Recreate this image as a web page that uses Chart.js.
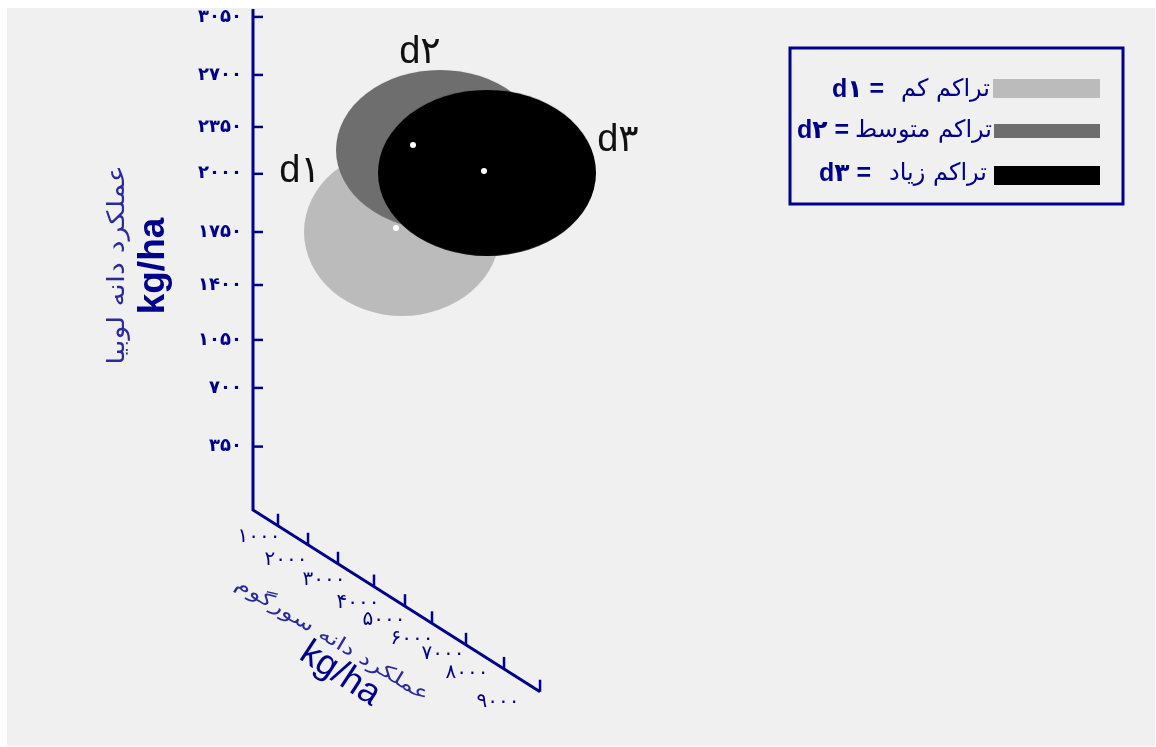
<!DOCTYPE html>
<html lang="fa"><head><meta charset="utf-8">
<style>html,body{margin:0;padding:0;background:#fff}canvas{display:block}</style>
<script src="https://cdn.jsdelivr.net/npm/chart.js@4"></script>
</head><body>
<div style="width:1156px;height:747px"><canvas id="c" width="1156" height="747"></canvas></div>
<script>
// ---- data ----
const seriesNames = ['d۱', 'd۲', 'd۳'];
const seriesText = ['تراکم کم', 'تراکم متوسط', 'تراکم زیاد'];
const seriesColors = ['#bbbbbb', '#6e6e6e', '#000000'];
const sorghumYield = [4484, 5017, 7243];   // depth axis, white centre dots
const cowpeaYield = [1745, 2259, 2098];    // vertical axis, white centre dots
const blobDepth = [4672, 5863, 7337];
const blobYield = [1720, 2228, 2086];
const yTickLabels = ['۳۰۵۰', '۲۷۰۰', '۲۳۵۰', '۲۰۰۰', '۱۷۵۰', '۱۴۰۰', '۱۰۵۰', '۷۰۰', '۳۵۰'];
const yTickPlaces = [3051, 2692, 2370, 2080, 1720, 1392, 1052, 755, 392];
const depthTickLabels = ['۱۰۰۰', '۲۰۰۰', '۳۰۰۰', '۴۰۰۰', '۵۰۰۰', '۶۰۰۰', '۷۰۰۰', '۸۰۰۰', '۹۰۰۰'];
const depthTickPlaces = [784, 1725, 2665, 3794, 4766, 5613, 6679, 7871, 9000];
const yTitle = 'عملکرد دانه لوبیا';
const depthTitle = 'عملکرد دانه سورگوم';
const unitText = 'kg/ha';

// ---- styling ----
const NAVY = '#00008b';
const DEPTH_SLOPE = 0.125;               // oblique projection of the depth axis
const depthY = d => -d * DEPTH_SLOPE;
const blobSizes = [[98, 84], [104, 80], [109, 83]];
const depthLabelOffsets = [[-19, 11], [-22, 15], [-14, 16], [-16, 16], [-21, 14], [-20, 15], [-23, 9], [-37, 4], [-42, 10]];
const labelSpots = [[300, 172], [420, 53], [618, 141]];
const legendRows = [
  {cy: 90, sw: [993, 79, 107, 19], textRight: 990, sym: 884},
  {cy: 131, sw: [994, 124, 106, 14], textRight: 992, sym: 849},
  {cy: 174, sw: [994, 166, 106, 19], textRight: 987, sym: 871}
];

function ellipseStyle(rx, ry, color) {
  const cv = document.createElement('canvas');
  cv.width = rx * 2; cv.height = ry * 2;
  const g = cv.getContext('2d');
  g.fillStyle = color;
  g.beginPath(); g.ellipse(rx, ry, rx, ry, 0, 0, Math.PI * 2); g.fill();
  return cv;
}

const blobs = seriesNames.map((n, i) => ({
  type: 'bubble', label: n, order: 10 - i,
  data: [{x: blobDepth[i], y: blobYield[i], r: blobSizes[i][1]}],
  pointStyle: ellipseStyle(blobSizes[i][0], blobSizes[i][1], seriesColors[i]),
  backgroundColor: seriesColors[i], borderWidth: 0, clip: false
}));

const frame = {
  id: 'frame',
  beforeDraw(chart) {
    const c = chart.ctx;
    c.save();
    c.fillStyle = '#ffffff'; c.fillRect(0, 0, 1156, 747);
    c.fillStyle = '#f0f0f0'; c.fillRect(7, 8, 1148, 738);
    c.restore();
  },
  afterDraw(chart) {
    const c = chart.ctx, X = chart.scales.x, Y = chart.scales.y;
    c.save();
    c.strokeStyle = NAVY; c.lineWidth = 2.5;
    // vertical axis ticks (pointing right)
    yTickPlaces.forEach(v => {
      const py = Y.getPixelForValue(v);
      c.beginPath(); c.moveTo(X.getPixelForValue(0), py); c.lineTo(X.getPixelForValue(0) + 10, py); c.stroke();
    });
    // depth axis ticks and labels
    depthTickPlaces.forEach((d, i) => {
      const px = X.getPixelForValue(d), py = Y.getPixelForValue(depthY(d));
      c.beginPath(); c.moveTo(px, py); c.lineTo(px, py - 12); c.stroke();
      c.save();
      c.fillStyle = NAVY; c.font = '20px "DejaVu Sans"';
      c.textAlign = 'center'; c.textBaseline = 'middle';
      c.fillText(depthTickLabels[i], px + depthLabelOffsets[i][0], py + depthLabelOffsets[i][1]);
      c.restore();
    });
    // titles
    const rotText = (txt, x, y, a, font, color, sx = 1) => {
      c.save(); c.translate(x, y); c.rotate(a); c.scale(sx, 1);
      c.font = font; c.fillStyle = color; c.textAlign = 'center'; c.textBaseline = 'middle';
      c.fillText(txt, 0, 0); c.restore();
    };
    rotText(yTitle, 118, 265, -Math.PI / 2, '24px "DejaVu Sans"', '#2a2a9e', 1.2);
    rotText(unitText, 154, 266, -Math.PI / 2, 'bold 37px "Liberation Sans"', NAVY);
    rotText(depthTitle, 332, 640, 0.54, '19px "DejaVu Sans"', '#2a2a9e', 1.35);
    rotText(unitText, 340, 674, 0.58, '36px "Liberation Sans"', NAVY);
    // series labels next to the blobs
    seriesNames.forEach((n, i) => {
      rotText(n, labelSpots[i][0], labelSpots[i][1], 0, '38px "Liberation Sans","DejaVu Sans"', '#111');
    });
    // legend
    c.strokeStyle = NAVY; c.lineWidth = 3;
    c.strokeRect(790, 48, 333, 156);
    legendRows.forEach((r, i) => {
      c.fillStyle = seriesColors[i];
      c.fillRect(r.sw[0], r.sw[1], r.sw[2], r.sw[3]);
      c.fillStyle = NAVY; c.textBaseline = 'middle'; c.textAlign = 'right';
      c.font = '24px "DejaVu Sans"';
      c.fillText(seriesText[i], r.textRight, r.cy);
      c.font = 'bold 25px "Liberation Sans","DejaVu Sans"';
      c.fillText(seriesNames[i] + ' =', r.sym, r.cy);
    });
    c.restore();
  }
};

new Chart(document.getElementById('c'), {
  data: {
    datasets: [
      {type: 'scatter', label: 'axes', order: 0, showLine: true, clip: false,
       data: [{x: 0, y: 3100}, {x: 0, y: 0}, {x: depthTickPlaces[8], y: depthY(depthTickPlaces[8])}],
       borderColor: NAVY, borderWidth: 3, pointRadius: 0, tension: 0},
      {type: 'scatter', label: 'centres', order: 1, clip: false,
       data: sorghumYield.map((x, i) => ({x, y: cowpeaYield[i]})),
       backgroundColor: '#ffffff', borderWidth: 0, pointRadius: 3},
      ...blobs
    ]
  },
  options: {
    responsive: false, animation: false, events: [],
    layout: {autoPadding: false, padding: {left: 0, right: 10, top: 9, bottom: 27}},
    plugins: {legend: {display: false}, tooltip: {enabled: false}},
    scales: {
      x: {type: 'linear', min: 0, max: 28000, display: false},
      y: {
        type: 'linear', min: -1300, max: 3100, position: 'left',
        border: {display: false},
        grid: {display: false, drawTicks: false},
        afterBuildTicks(s) { s.ticks = yTickPlaces.map(value => ({value})); },
        afterFit(s) { s.width = 253; s.paddingTop = 0; s.paddingBottom = 0; },
        afterDataLimits(s) { s.options.grace = 0; },
        ticks: {
          autoSkip: false, padding: 11, maxRotation: 0, color: NAVY,
          font: {family: '"DejaVu Sans"', size: 18, weight: 'bold'},
          callback(v) { return yTickLabels[yTickPlaces.indexOf(v)]; }
        }
      }
    }
  },
  plugins: [frame]
});
</script>
</body></html>
